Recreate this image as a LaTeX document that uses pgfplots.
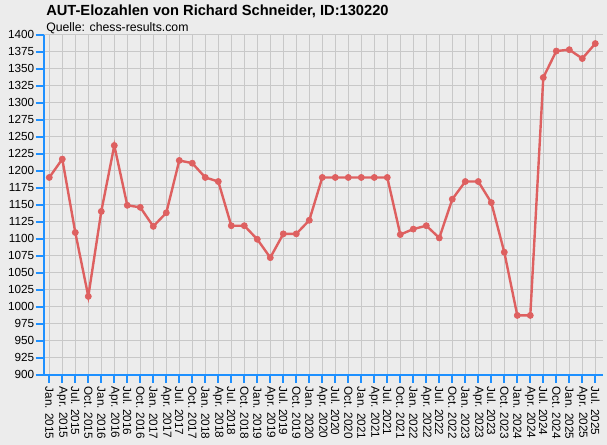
\documentclass[border=0pt]{standalone}
\usepackage{fontspec}
\setmainfont{Liberation Sans}
\usepackage{pgfplots}
\pgfplotsset{compat=1.18}
\usepackage{pgfplotstable}

\definecolor{bgcol}{RGB}{236,236,236}
\definecolor{gridcol}{RGB}{200,200,200}
\definecolor{axblue}{RGB}{30,144,255}
\definecolor{elored}{RGB}{222,96,96}

% quarter index (0 = Jan. 2015), Elo
\pgfplotstableread{
i elo
0 1190
1 1217
2 1109
3 1015
4 1140
5 1237
6 1149
7 1146
8 1118
9 1138
10 1215
11 1211
12 1190
13 1184
14 1119
15 1119
16 1099
17 1072
18 1107
19 1107
20 1127
21 1190
22 1190
23 1190
24 1190
25 1190
26 1190
27 1106
28 1114
29 1119
30 1101
31 1158
32 1184
33 1184
34 1153
35 1080
36 987
37 987
38 1337
39 1376
40 1378
41 1365
42 1387
}\elodata

\begin{document}
\begin{tikzpicture}
\fill[bgcol] (0,0) rectangle (455.25pt,-333.75pt);
\node[anchor=base west, inner sep=0pt, font=\bfseries\fontsize{11}{13}\selectfont]
  at (34.5pt,-12pt) {AUT-Elozahlen von Richard Schneider, ID:130220};
\node[anchor=base west, inner sep=0pt, font=\fontsize{9.2}{11}\selectfont]
  at (34.5pt,-23.4pt) {Quelle: chess-results.com};
\begin{axis}[
  at={(32.78pt,-280.9pt)}, anchor=south west,
  scale only axis, width=419.25pt, height=254.85pt,
  xmin=-0.43, xmax=42.57, ymin=900, ymax=1400,
  xtick={0,...,42},
  xticklabels={Jan. 2015,Apr. 2015,Jul. 2015,Oct. 2015,
    Jan. 2016,Apr. 2016,Jul. 2016,Oct. 2016,
    Jan. 2017,Apr. 2017,Jul. 2017,Oct. 2017,
    Jan. 2018,Apr. 2018,Jul. 2018,Oct. 2018,
    Jan. 2019,Apr. 2019,Jul. 2019,Oct. 2019,
    Jan. 2020,Apr. 2020,Jul. 2020,Oct. 2020,
    Jan. 2021,Apr. 2021,Jul. 2021,Oct. 2021,
    Jan. 2022,Apr. 2022,Jul. 2022,Oct. 2022,
    Jan. 2023,Apr. 2023,Jul. 2023,Oct. 2023,
    Jan. 2024,Apr. 2024,Jul. 2024,Oct. 2024,
    Jan. 2025,Apr. 2025,Jul. 2025},
  ytick={900,925,...,1400},
  axis x line*=bottom, axis y line*=left,
  axis line style={draw=axblue, line width=1.5pt, -},
  grid=major, major grid style={draw=gridcol, line width=0.75pt},
  tick align=outside, major tick length=6pt,
  tick style={draw=axblue, line width=1.5pt},
  /pgf/number format/assume math mode=true,
  /pgf/number format/1000 sep={},
  ticklabel style={font=\fontsize{8.8}{10}\selectfont, inner sep=0pt},
  xticklabel style={rotate=-90, anchor=west},
  yticklabel style={anchor=east},
  xticklabel shift=3pt, yticklabel shift=1pt,
]
\addplot[color=elored, line width=1.8pt, mark=*, mark size=2.3pt,
  mark options={fill=elored, draw=elored, line width=0.5pt}]
  table[x=i, y=elo] {\elodata};
\end{axis}
\pgfresetboundingbox
\useasboundingbox (0,0) rectangle (455.25pt,-333.75pt);
\end{tikzpicture}
\end{document}
